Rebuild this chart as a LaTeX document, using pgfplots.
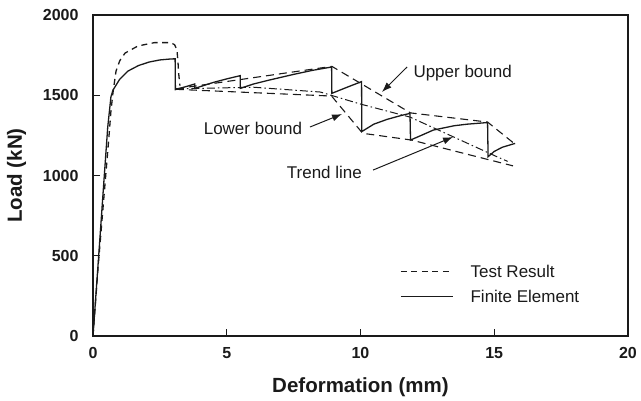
\documentclass[border=0pt]{standalone}
\usepackage{fontspec}
\setmainfont{Liberation Sans}
\usepackage{pgfplots}
\pgfplotsset{compat=1.18}
\usetikzlibrary{arrows.meta}
\definecolor{ink}{HTML}{1A1A1A}
\begin{document}
\begin{tikzpicture}
\begin{axis}[
    scale only axis,
    width=535pt, height=321pt,
    xmin=0, xmax=20, ymin=0, ymax=2000,
    xtick={0,5,10,15,20},
    ytick={0,500,1000,1500,2000},
    xtick pos=bottom, ytick pos=left,
    tick align=inside,
    major tick length=7pt,
    axis line style={line width=1.3pt, ink},
    tick style={line width=1.1pt, ink},
    tick label style={font=\fontsize{16}{19}\selectfont\bfseries, text=ink},
    /pgf/number format/assume math mode=true,
    /pgf/number format/1000 sep={},
    xticklabel style={yshift=-8pt},
    yticklabel style={xshift=-11pt},
    xlabel={Deformation (mm)},
    ylabel={Load (kN)},
    label style={font=\fontsize{20.5}{24}\selectfont\bfseries, text=ink},
    xlabel style={yshift=-12pt},
    ylabel style={yshift=10pt},
    legend style={draw=none, fill=none, at={(0.574,0.222)}, anchor=north west,
        font=\fontsize{17}{20}\selectfont, row sep=11pt, inner sep=0pt,
        nodes={inner sep=0pt, text=ink},
        /tikz/every odd column/.append style={column sep=17pt}},
    legend cell align=left,
    legend image code/.code={\draw[#1] (0pt,0pt) -- (52pt,0pt);},
]
% test result
\addplot[ink, line width=1.3pt, dash pattern=on 6pt off 4.5pt] coordinates {
(0,0)(0.2,450)(0.45,950)(0.6,1250)(0.67,1400)(0.75,1520)(0.86,1650)(1.0,1715)
(1.2,1763)(1.68,1807)(2.3,1828)(2.9,1828)(3.05,1815)(3.14,1782)(3.18,1700)
(3.2,1640)(3.25,1560)
};
\addlegendentry{Test Result}
% finite element
\addplot[ink, line width=1.3pt] coordinates {
(0,0)(0.2,470)(0.41,970)(0.55,1300)(0.67,1490)(0.75,1533)(1.0,1600)(1.3,1650)
(1.7,1685)(2.1,1707)(2.5,1720)(2.9,1726)(3.07,1727)(3.08,1535)
(3.5,1555)(3.8,1570)(3.81,1543)(4.5,1580)(5.0,1602)(5.5,1622)(5.51,1543)
(6.0,1570)(6.6,1595)(7.5,1630)(8.2,1655)(8.92,1676)(8.93,1512)
(9.5,1550)(10.04,1585)(10.05,1274)(10.5,1320)(11.0,1350)(11.5,1373)(11.85,1387)
(11.87,1221)(12.3,1252)(12.72,1283)(13.5,1310)(14.0,1320)(14.75,1330)
(14.77,1117)(15.0,1150)(15.3,1176)(15.78,1200)
};
\addlegendentry{Finite Element}
% upper bound
\addplot[ink, line width=1.1pt, dash pattern=on 8pt off 5pt, forget plot] coordinates {
(3.1,1540)(8.93,1680)(11.87,1390)(14.75,1333)(15.8,1192)
};
% lower bound
\addplot[ink, line width=1.1pt, dash pattern=on 8pt off 5pt, forget plot] coordinates {
(3.1,1537)(8.92,1495)(10.08,1263)(11.9,1221)(15.7,1060)
};
% trend line
\addplot[ink, line width=1.0pt, dash pattern=on 8pt off 3pt on 1.5pt off 3pt, forget plot] coordinates {
(3.1,1540)(6.0,1550)(8.5,1520)(10.0,1445)(11.85,1364)(15.1,1117)(15.5,1088)
};
\coordinate (O) at (axis cs:0,0);
\node[font=\fontsize{17}{20}\selectfont, text=ink, anchor=west] at (axis cs:11.85,1639) {Upper bound};
\node[font=\fontsize{17}{20}\selectfont, text=ink] at (axis cs:5.98,1296) {Lower bound};
\node[font=\fontsize{17}{20}\selectfont, text=ink] at (axis cs:8.65,1022) {Trend line};
\draw[ink, line width=1pt, -{Latex[length=10pt,width=7pt]}] (axis cs:11.74,1676) -- (axis cs:10.8,1520);
\draw[ink, line width=1pt, -{Latex[length=10pt,width=7pt]}] (axis cs:8.11,1302) -- (axis cs:9.31,1383);
\draw[ink, line width=1pt, -{Latex[length=10pt,width=7pt]}] (axis cs:10.47,1034) -- (axis cs:13.46,1240);
\end{axis}
\pgfresetboundingbox
\path (O) ++(-93pt,-64pt) rectangle ++(641pt,400pt);
\end{tikzpicture}
\end{document}
